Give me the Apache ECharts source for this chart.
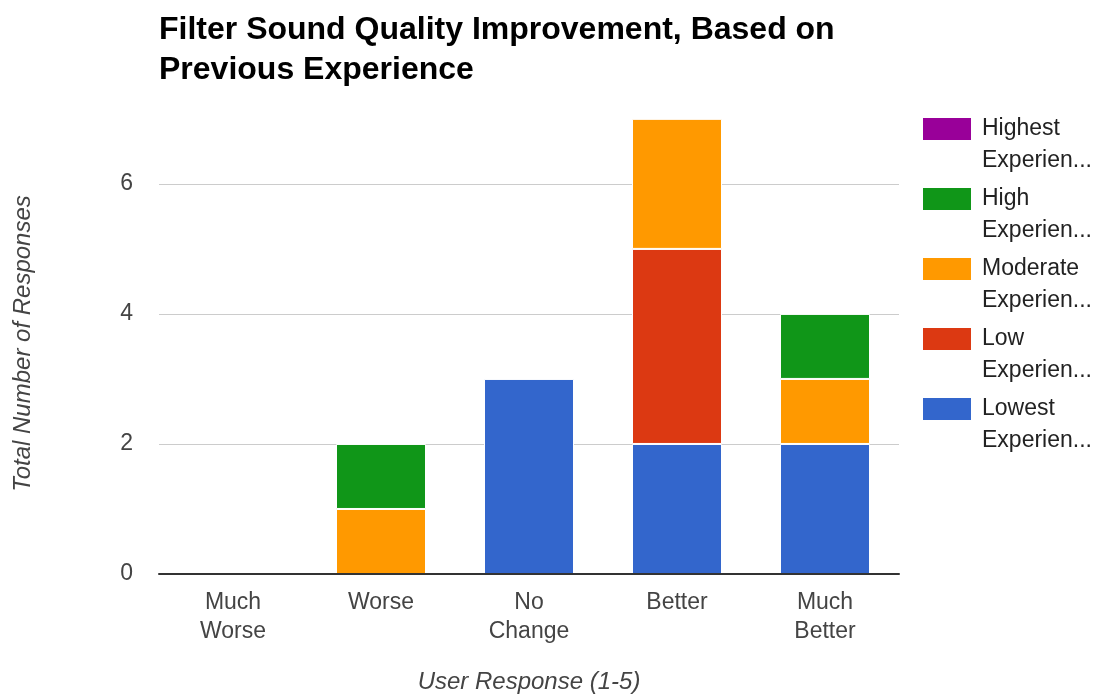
<!DOCTYPE html>
<html>
<head>
<meta charset="utf-8">
<script src="https://cdn.jsdelivr.net/npm/echarts@6/dist/echarts.min.js"></script>
<style>
html,body{margin:0;padding:0;background:#fff;}
#chart{width:1111px;height:694px;}
</style>
</head>
<body>
<div id="chart"></div>
<script>
const categories = ['Much Worse', 'Worse', 'No Change', 'Better', 'Much Better'];
const seriesNames = ['Lowest Experience', 'Low Experience', 'Moderate Experience', 'High Experience', 'Highest Experience'];
const lowest   = [0, 0, 3, 2, 2];
const low      = [0, 0, 0, 3, 0];
const moderate = [0, 1, 0, 2, 1];
const high     = [0, 1, 0, 0, 1];
const highest  = [0, 0, 0, 0, 0];
const yTicks = [0, 2, 4, 6];

const seriesValues = [lowest, low, moderate, high, highest];
const colors = ['#3366cc', '#dc3912', '#ff9900', '#109618', '#990099'];
const FONT = '"Liberation Sans", Arial, sans-serif';

const chart = echarts.init(document.getElementById('chart'), null, {renderer: 'canvas'});
chart.setOption({
  animation: false,
  backgroundColor: '#ffffff',
  color: colors,
  title: {
    text: 'Filter Sound Quality Improvement, Based on\nPrevious Experience',
    left: 154, top: 5,
    textStyle: {fontFamily: FONT, fontSize: 32, fontWeight: 'bold', color: '#000', lineHeight: 40}
  },
  legend: {
    orient: 'vertical',
    left: 923, top: 113, padding: 0,
    itemWidth: 48, itemHeight: 54, itemGap: 6,
    icon: 'path://M0,0L48,0L48,22L0,22Z M0,54L0.01,54L0.01,54.01Z',
    itemStyle: {borderWidth: 0},
    data: seriesNames.slice().reverse(),
    formatter: function (name) {
      const p = name.split(' ');
      return p[0] + '\n' + p[1].slice(0, 8) + '...';
    },
    textStyle: {fontFamily: FONT, fontSize: 23, color: '#222', lineHeight: 32, padding: [0, 0, 0, 6]}
  },
  grid: {left: 159, right: 212, top: 113, bottom: 120, containLabel: false, outerBoundsMode: 'none'},
  xAxis: {
    type: 'category',
    data: categories,
    z: 10,
    name: 'User Response (1-5)',
    nameLocation: 'middle',
    nameGap: 96,
    nameTextStyle: {fontFamily: FONT, fontSize: 24, fontStyle: 'italic', color: '#444'},
    axisLine: {show: true, lineStyle: {color: '#333', width: 2}},
    axisTick: {show: false},
    axisLabel: {
      fontFamily: FONT, fontSize: 23, color: '#444', lineHeight: 29, margin: 14,
      interval: 0,
      formatter: function (v) { return v.replace(' ', '\n'); }
    }
  },
  yAxis: {
    type: 'value',
    min: 0, max: 7.09, interval: 2,
    name: 'Total Number of Responses',
    nameLocation: 'middle',
    nameGap: 124,
    nameTextStyle: {fontFamily: FONT, fontSize: 24, fontStyle: 'italic', color: '#444'},
    axisLine: {show: false},
    axisTick: {show: false},
    axisLabel: {
      fontFamily: FONT, fontSize: 23, color: '#444', margin: 26,
      showMaxLabel: false,
      formatter: function (v) { return yTicks.indexOf(v) >= 0 ? String(v) : ''; }
    },
    splitLine: {show: true, showMaxLine: false, lineStyle: {color: '#cccccc', width: 1}}
  },
  series: seriesNames.map(function (n, i) {
    return {
      name: n,
      type: 'bar',
      stack: 'total',
      barWidth: 90,
      data: seriesValues[i].map(function (v) { return v === 0 ? null : v; }),
      itemStyle: {color: colors[i], borderColor: '#ffffff', borderWidth: 1}
    };
  })
});
</script>
</body>
</html>
